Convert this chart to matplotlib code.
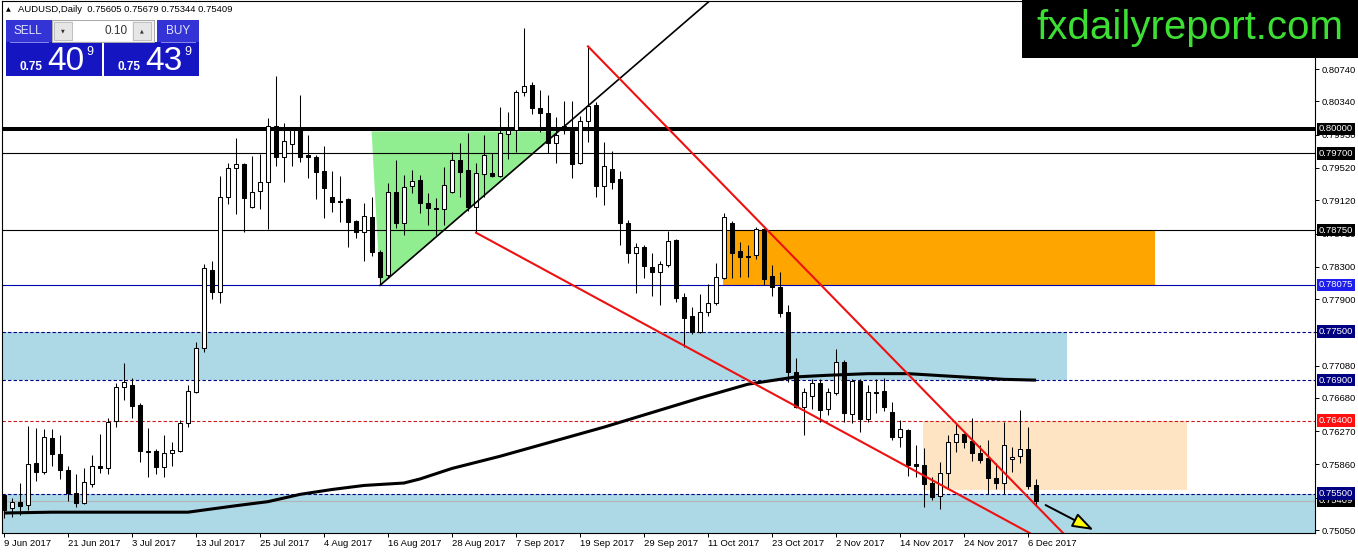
import matplotlib
matplotlib.use("Agg")
import matplotlib.pyplot as plt
from matplotlib.patches import Rectangle, Polygon
from matplotlib.transforms import blended_transform_factory
import numpy as np
import pandas as pd

plt.rcParams['font.family'] = ['Liberation Sans', 'DejaVu Sans']

symbol = "AUDUSD,Daily"
dates = pd.bdate_range("2017-06-09", periods=130)

# daily candles (9 Jun .. 7 Dec 2017)
opens = [
    0.7548, 0.7532, 0.7540, 0.7536, 0.7588, 0.7577, 0.7619, 0.7599, 0.7579, 0.7551,
    0.7538, 0.7562, 0.7584, 0.7582, 0.7640, 0.7682, 0.7684, 0.7659, 0.7603, 0.7603,
    0.7583, 0.7600, 0.7603, 0.7637, 0.7675, 0.7730, 0.7826, 0.7799, 0.7916, 0.7952,
    0.7957, 0.7904, 0.7923, 0.7935, 0.8004, 0.7965, 0.7982, 0.8001, 0.7968, 0.7965,
    0.7948, 0.7916, 0.7911, 0.7914, 0.7886, 0.7873, 0.7891, 0.7848, 0.7820, 0.7922,
    0.7884, 0.7930, 0.7937, 0.7909, 0.7902, 0.7901, 0.7922, 0.7962, 0.7949, 0.7904,
    0.7944, 0.7946, 0.7942, 0.7994, 0.7999, 0.8046, 0.8054, 0.8026, 0.8020, 0.7983,
    0.8004, 0.7998, 0.7958, 0.8010, 0.8030, 0.7930, 0.7951, 0.7938, 0.7884, 0.7847,
    0.7854, 0.7830, 0.7823, 0.7832, 0.7863, 0.7793, 0.7769, 0.7749, 0.7774, 0.7785,
    0.7816, 0.7884, 0.7849, 0.7843, 0.7845, 0.7877, 0.7819, 0.7805, 0.7774, 0.7700,
    0.7657, 0.7670, 0.7687, 0.7654, 0.7674, 0.7712, 0.7648, 0.7689, 0.7642, 0.7675,
    0.7677, 0.7651, 0.7620, 0.7628, 0.7587, 0.7585, 0.7563, 0.7547, 0.7575, 0.7614,
    0.7624, 0.7615, 0.7600, 0.7594, 0.7569, 0.7563, 0.7593, 0.7596, 0.7605, 0.75605,
]
highs = [
    0.7549, 0.7545, 0.7563, 0.7633, 0.7631, 0.7630, 0.7630, 0.7622, 0.7584, 0.7574,
    0.7582, 0.7598, 0.7624, 0.7643, 0.7687, 0.7711, 0.7693, 0.7662, 0.7631, 0.7605,
    0.7622, 0.7614, 0.7641, 0.7684, 0.7737, 0.7833, 0.7837, 0.7942, 0.7958, 0.7989,
    0.7958, 0.7967, 0.7969, 0.8014, 0.8065, 0.8007, 0.8002, 0.8042, 0.7993, 0.7968,
    0.7979, 0.7948, 0.7942, 0.7915, 0.7888, 0.7909, 0.7916, 0.7851, 0.7933, 0.7962,
    0.7943, 0.7949, 0.7943, 0.7921, 0.7915, 0.7953, 0.7972, 0.7983, 0.7995, 0.7958,
    0.7993, 0.7970, 0.8027, 0.8021, 0.8048, 0.8125, 0.8058, 0.8048, 0.8042, 0.8015,
    0.8035, 0.8035, 0.8016, 0.8102, 0.8033, 0.7984, 0.7973, 0.7948, 0.7888, 0.7859,
    0.7857, 0.7847, 0.7837, 0.7874, 0.7864, 0.7797, 0.7780, 0.7796, 0.7809, 0.7835,
    0.7896, 0.7886, 0.7860, 0.7857, 0.7879, 0.7878, 0.7832, 0.7823, 0.7783, 0.7717,
    0.7680, 0.7691, 0.7691, 0.7680, 0.7728, 0.7715, 0.7691, 0.7691, 0.7684, 0.7691,
    0.7693, 0.7663, 0.7641, 0.7630, 0.7610, 0.7606, 0.7571, 0.7589, 0.7622, 0.7637,
    0.7625, 0.7643, 0.7610, 0.7616, 0.7588, 0.7638, 0.7607, 0.7653, 0.7632, 0.75679,
]
lows = [
    0.7520, 0.7521, 0.7524, 0.7530, 0.7566, 0.7574, 0.7584, 0.7568, 0.7541, 0.7533,
    0.7537, 0.7558, 0.7575, 0.7574, 0.7632, 0.7666, 0.7643, 0.7589, 0.7571, 0.7574,
    0.7571, 0.7584, 0.7601, 0.7632, 0.7674, 0.7725, 0.7790, 0.7785, 0.7907, 0.7895,
    0.7873, 0.7902, 0.7901, 0.7877, 0.7954, 0.7935, 0.7954, 0.7959, 0.7940, 0.7914,
    0.7890, 0.7898, 0.7885, 0.7854, 0.7865, 0.7837, 0.7843, 0.7807, 0.7816, 0.7878,
    0.7869, 0.7921, 0.7896, 0.7881, 0.7869, 0.7881, 0.7921, 0.7916, 0.7899, 0.7872,
    0.7916, 0.7941, 0.7941, 0.7963, 0.7972, 0.8041, 0.8019, 0.7996, 0.7970, 0.7958,
    0.7994, 0.7940, 0.7957, 0.7984, 0.7916, 0.7906, 0.7926, 0.7857, 0.7835, 0.7797,
    0.7816, 0.7794, 0.7783, 0.7830, 0.7786, 0.7731, 0.7747, 0.7748, 0.7769, 0.7783,
    0.7815, 0.7816, 0.7817, 0.7817, 0.7840, 0.7807, 0.7794, 0.7768, 0.7688, 0.7656,
    0.7622, 0.7654, 0.7638, 0.7647, 0.7672, 0.7638, 0.7637, 0.7626, 0.7638, 0.7649,
    0.7652, 0.7616, 0.7607, 0.7572, 0.7571, 0.7533, 0.7542, 0.7531, 0.7557, 0.7601,
    0.7606, 0.7590, 0.7588, 0.7549, 0.7556, 0.7549, 0.7577, 0.7588, 0.7556, 0.75344,
]
closes = [
    0.7530, 0.7540, 0.7535, 0.7587, 0.7577, 0.7620, 0.7599, 0.7579, 0.7551, 0.7538,
    0.7564, 0.7584, 0.7582, 0.7638, 0.7682, 0.7688, 0.7658, 0.7603, 0.7601, 0.7583,
    0.7600, 0.7604, 0.7637, 0.7677, 0.7730, 0.7828, 0.7799, 0.7916, 0.7952, 0.7957,
    0.7915, 0.7922, 0.7935, 0.8004, 0.7965, 0.7985, 0.7999, 0.7965, 0.7965, 0.7947,
    0.7927, 0.7910, 0.7910, 0.7885, 0.7873, 0.7893, 0.7848, 0.7817, 0.7922, 0.7884,
    0.7928, 0.7936, 0.7909, 0.7902, 0.7901, 0.7931, 0.7962, 0.7947, 0.7904, 0.7946,
    0.7968, 0.7942, 0.7995, 0.7999, 0.8046, 0.8053, 0.8026, 0.8020, 0.7983, 0.7993,
    0.7999, 0.7957, 0.8010, 0.8028, 0.7930, 0.7954, 0.7935, 0.7884, 0.7847, 0.7854,
    0.7831, 0.7823, 0.7833, 0.7862, 0.7791, 0.7767, 0.7749, 0.7774, 0.7785, 0.7817,
    0.7891, 0.7847, 0.7842, 0.7842, 0.7877, 0.7815, 0.7805, 0.7773, 0.7700, 0.7657,
    0.7675, 0.7687, 0.7653, 0.7675, 0.7712, 0.7649, 0.7689, 0.7642, 0.7675, 0.7674,
    0.7657, 0.7620, 0.7630, 0.7585, 0.7584, 0.7562, 0.7546, 0.7575, 0.7614, 0.7624,
    0.7614, 0.7600, 0.7591, 0.7569, 0.7563, 0.7610, 0.7595, 0.7605, 0.7559, 0.75409,
]

# moving average, sampled at bar numbers
ma_bars = [0, 6, 19, 23, 29, 33, 37, 41, 45, 50, 52, 56, 62, 75, 87, 93, 95, 99,
           103, 108, 113, 118, 125, 129]
ma_vals = [0.7526, 0.7527, 0.7527, 0.7527, 0.7535, 0.7540, 0.7549, 0.7555, 0.7560,
           0.7563, 0.7568, 0.7581, 0.7596, 0.7632, 0.7668, 0.7685, 0.7688, 0.7694,
           0.7696, 0.7698, 0.7698, 0.7695, 0.7691, 0.7690]

# chart objects (bar number, price)
level_thick = 0.80000
levels_black = [0.79700, 0.78750]
level_blue = 0.78075
levels_dash = [0.77500, 0.76900, 0.75500]
level_red = 0.76400
bid = closes[-1]
ask = 0.75439
lot = "0.10"

zone_mid = (-0.3, 132.9, 0.76900, 0.77500)
zone_low = (-0.3, 165.0, 0.74900, 0.75500)
zone_orange = (89.9, 143.9, 0.78075, 0.78750)
zone_peach = (114.9, 147.9, 0.75545, 0.76400)
triangle = [(45.95, 0.7997), (47.0, 0.7807), (69.3, 0.7997)]
trend_up = [(47.0, 0.7807), (95.0, 0.8216)]
red_upper = [(73.0, 0.8102), (133.0, 0.7495)]
red_lower = [(59.0, 0.7872), (129.0, 0.7497)]
arrow_pts = [(130.2, 0.75358), (136.2, 0.75050)]

yticks = [0.80740, 0.80340, 0.79930, 0.79520, 0.79120, 0.78710, 0.78300, 0.77900,
          0.77490, 0.77080, 0.76680, 0.76270, 0.75860, 0.75450, 0.75050]
price_tags = [(bid, 'black'), (0.80000, 'black'), (0.79700, 'black'), (0.78750, 'black'),
              (0.78075, '#1e1eef'), (0.77500, '#000080'), (0.76900, '#000080'),
              (0.76400, '#ff1010'), (0.75500, '#000080')]

W, H = 1358, 554
fig = plt.figure(figsize=(W / 100, H / 100), dpi=100)
ax = fig.add_axes([2 / W, 21 / H, 1313 / W, 532 / H])
ax.set_xlim(-0.25, 163.875)
ax.set_ylim(0.75013, 0.81580)

o, hi, lo, c = map(np.array, (opens, highs, lows, closes))
x = np.arange(len(o))

# zones
for x0, x1, p0, p1 in [zone_mid, zone_low]:
    ax.add_patch(Rectangle((x0, p0), x1 - x0, p1 - p0, fc='#add8e6', ec='none', zorder=1))
x0, x1, p0, p1 = zone_orange
ax.add_patch(Rectangle((x0, p0), x1 - x0, p1 - p0, fc='#ffa500', ec='none', zorder=1))
x0, x1, p0, p1 = zone_peach
ax.add_patch(Rectangle((x0, p0), x1 - x0, p1 - p0, fc='#ffe4c4', ec='none', zorder=1))
ax.add_patch(Polygon(triangle, closed=True, fc='#90ee90', ec='none', zorder=1.5))

# horizontal levels
ax.axhline(level_thick, color='black', lw=2.9, zorder=2)
for lv in levels_black:
    ax.axhline(lv, color='black', lw=0.8, zorder=2)
ax.axhline(level_blue, color='#0000b0', lw=0.8, zorder=2)
for lv in levels_dash:
    ax.axhline(lv, color='#000080', lw=0.8, ls=(0, (3, 2)), zorder=2)
ax.axhline(level_red, color='#d01818', lw=0.8, ls=(0, (3, 2)), zorder=2)
ax.axhline(bid, color='#b4b4b4', lw=0.8, zorder=2)

# candles
up = c >= o
ax.vlines(x, lo, hi, color='black', lw=0.75, zorder=3)
ax.bar(x[up], (c - o)[up], bottom=o[up], width=0.55, color='white',
       edgecolor='black', lw=0.75, zorder=3.5)
ax.bar(x[~up], (o - c)[~up], bottom=c[~up], width=0.55, color='black',
       edgecolor='black', lw=0.75, zorder=3.5)

# moving average
ax.plot(ma_bars, ma_vals, color='black', lw=2.2, solid_capstyle='butt', zorder=4)

# trend lines
ax.plot(*zip(*trend_up), color='black', lw=1.2, zorder=5)
ax.plot(*zip(*red_upper), color='#ee1111', lw=1.5, zorder=5)
ax.plot(*zip(*red_lower), color='#ee1111', lw=1.5, zorder=5)
ax.annotate('', xy=arrow_pts[1], xytext=arrow_pts[0],
            arrowprops=dict(arrowstyle='-|>,head_length=1.3,head_width=0.45',
                            fc='#ffff00', ec='black', lw=1.4, shrinkA=0, shrinkB=0),
            zorder=6)

# axes styling
for sp in ax.spines.values():
    sp.set_color('black')
    sp.set_linewidth(0.8)
ax.yaxis.tick_right()
ax.set_yticks(yticks)
ax.set_yticklabels([f"{v:.5f}" for v in yticks])
ax.set_xticks(x[::8])
ax.set_xticklabels([f"{d.day} {d:%b %Y}" for d in dates[::8]])
for lbl in ax.get_xticklabels():
    lbl.set_ha('left')
ax.tick_params(axis='both', direction='out', length=3, width=0.7, labelsize=6.8,
               pad=1.5, colors='black')

trans = blended_transform_factory(ax.transAxes, ax.transData)
for price, bg in price_tags:
    ax.text(1 + 4 / 1313, price, f"{price:.5f}", transform=trans, fontsize=6.8,
            color='white', ha='left', va='center', clip_on=False, zorder=10,
            bbox=dict(boxstyle='square,pad=0.18', fc=bg, ec='none'))

# overlay: header, trade panel, logo (pixel coords)
ov = fig.add_axes([0, 0, 1, 1], zorder=10)
ov.set_xlim(0, W)
ov.set_ylim(H, 0)
ov.axis('off')

ov.text(6, 10, '\u25b2', fontsize=4.5, va='center', ha='left', family='DejaVu Sans')
ov.text(18, 10, f"{symbol}  {opens[-1]:.5f} {highs[-1]:.5f} {lows[-1]:.5f} {closes[-1]:.5f}",
        fontsize=6.8, va='center', ha='left')

top_blue, low_blue = '#3333d6', '#1515c2'
ov.add_patch(Rectangle((6, 20), 46, 22, fc=top_blue, ec='none'))
ov.add_patch(Rectangle((157, 20), 42, 22, fc=top_blue, ec='none'))
ov.add_patch(Rectangle((6, 42), 96, 34, fc=low_blue, ec='none'))
ov.add_patch(Rectangle((104, 42), 95, 34, fc=low_blue, ec='none'))
ov.plot([10, 48], [41.5, 41.5], color='#8888ee', lw=0.7)
ov.plot([161, 195], [41.5, 41.5], color='#8888ee', lw=0.7)
ov.text(28, 31, 'SELL', color='#e6e6ff', fontsize=8.5, ha='center', va='center')
ov.text(178, 31, 'BUY', color='#e6e6ff', fontsize=8.5, ha='center', va='center')

ov.add_patch(Rectangle((52, 20), 102, 22, fc='#f2f2f2', ec='#a8a8a8', lw=0.7))
ov.add_patch(Rectangle((73, 21), 59, 20, fc='white', ec='none'))
ov.add_patch(Rectangle((54, 22), 18, 18, fc='#e6e6e6', ec='#b8b8b8', lw=0.6))
ov.add_patch(Rectangle((133, 22), 18, 18, fc='#e6e6e6', ec='#b8b8b8', lw=0.6))
ov.text(63, 31, '\u25bc', fontsize=3.5, ha='center', va='center', family='DejaVu Sans', color='#333333')
ov.text(142, 31, '\u25b2', fontsize=3.5, ha='center', va='center', family='DejaVu Sans', color='#333333')
ov.text(128, 31, lot, fontsize=8.5, ha='right', va='center', color='#333333')

for px, price in [(20, bid), (118, ask)]:
    s = f"{price:.5f}"
    ov.text(px, 70, s[:4], color='white', fontsize=8.5, weight='bold', ha='left', va='baseline')
    ov.text(px + 27, 70, s[4:6], color='white', fontsize=24, ha='left', va='baseline')
    ov.text(px + 66, 55, s[6], color='white', fontsize=9, ha='left', va='baseline')

ov.add_patch(Rectangle((1022, 0), 336, 58, fc='black', ec='none'))
ov.text(1190, 28, 'fxdailyreport.com', color='#3ddf34', fontsize=29, ha='center',
        va='center', family='Liberation Sans')

fig.savefig('out.png', dpi=100)
